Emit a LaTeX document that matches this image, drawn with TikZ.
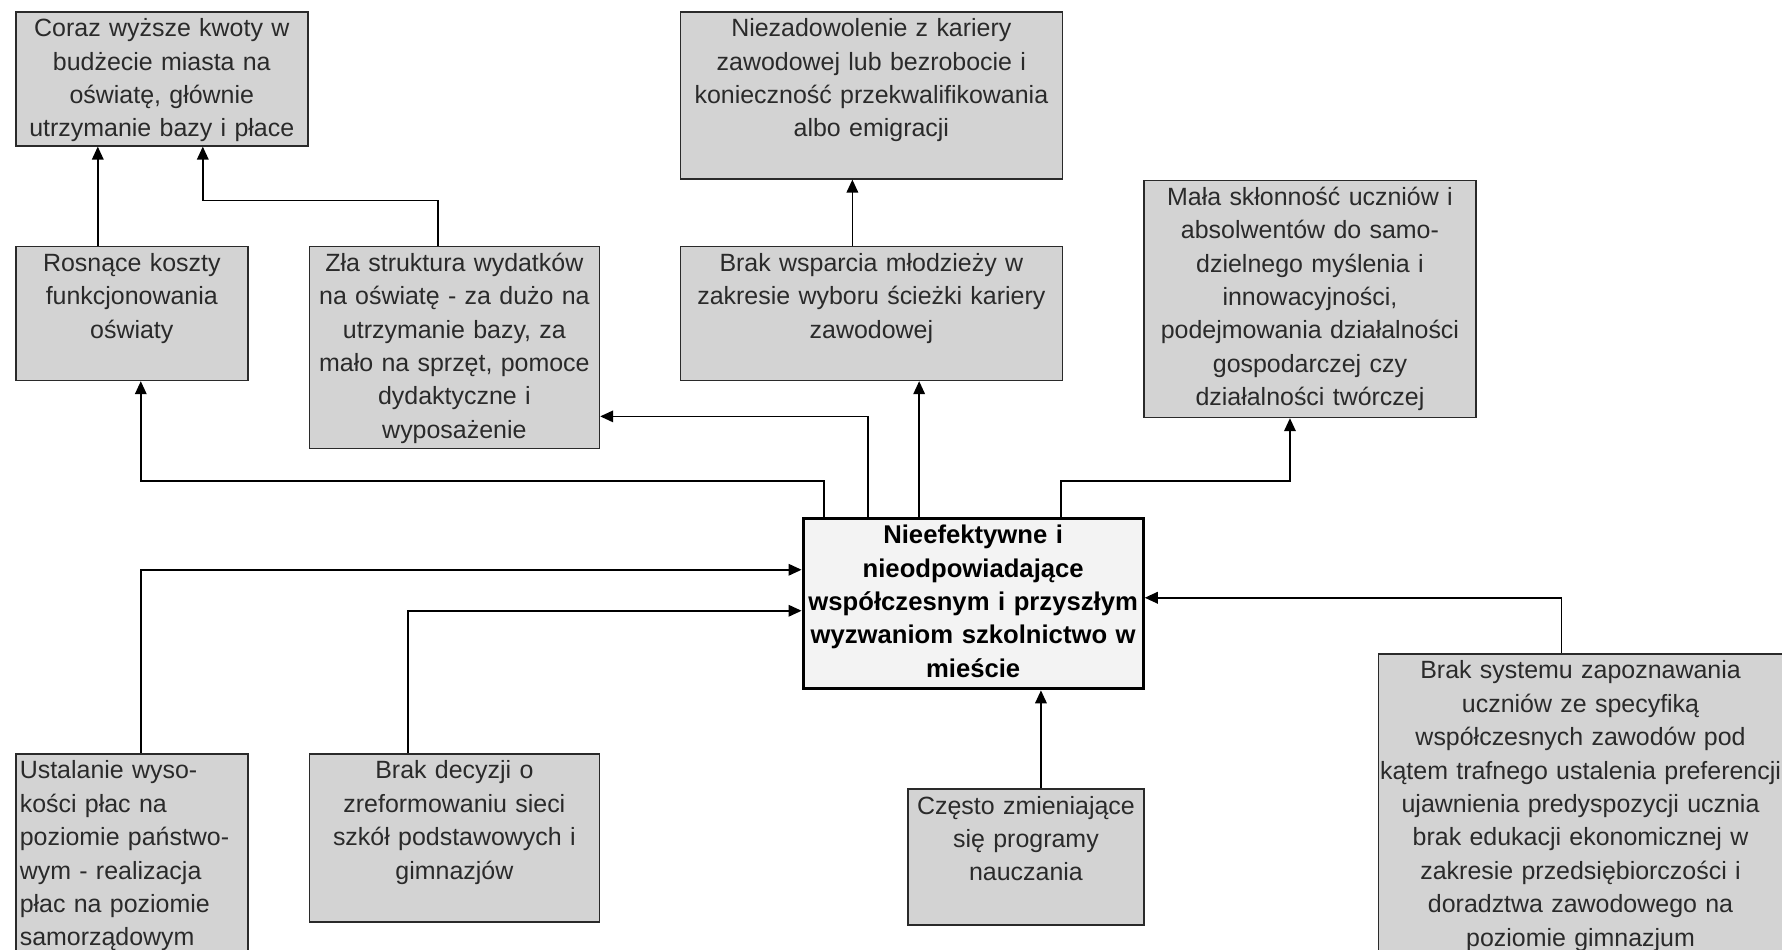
\documentclass[tikz,border=0pt]{standalone}
\usepackage{fontspec}
\setmainfont{Liberation Sans}
\usetikzlibrary{arrows.meta,positioning}
\definecolor{boxgray}{HTML}{D3D3D3}
\definecolor{coregray}{HTML}{F3F3F3}
\definecolor{ink}{HTML}{2A2A2A}
\tikzset{
  cause/.style={draw=ink,line width=0.9pt,fill=boxgray,align=center,inner xsep=1mm,inner ysep=1.5mm,text height=3.5mm,text=ink,font=\fontsize{14.2}{19}\selectfont},
  core/.style={cause,draw=black,line width=1.8pt,fill=coregray,text=black,inner xsep=0.5mm,font=\fontsize{14.6}{19}\selectfont\bfseries},
  flow/.style={-{Triangle[length=2.6mm,width=2.3mm]},line width=1pt,draw=black}
}
\begin{document}
\begin{tikzpicture}
\useasboundingbox (0,0) rectangle (356.4mm,-189.8mm);
\clip (0,0) rectangle (356.4mm,-189.8mm);

\node[cause,text width=56.4mm,text depth=20.3mm,anchor=north west] (coraz) at (3mm,-2.2mm) {Coraz wyższe kwoty w\\budżecie miasta na\\oświatę, głównie\\utrzymanie bazy i płace};
\node[cause,text width=44.4mm,text depth=20.3mm,below=19.8mm of coraz.south west,anchor=north west] (rosnace) {Rosnące koszty\\funkcjonowania\\oświaty};
\node[cause,text width=56mm,text depth=33.9mm,right=12mm of rosnace.north east,anchor=north west] (zla) {Zła struktura wydatków\\na oświatę - za dużo na\\utrzymanie bazy, za\\mało na sprzęt, pomoce\\dydaktyczne i\\wyposażenie};

\node[cause,text width=74.4mm,text depth=26.9mm,right=74.2mm of coraz.north east,anchor=north west] (niezad) {Niezadowolenie z kariery\\zawodowej lub bezrobocie i\\konieczność przekwalifikowania\\albo emigracji};
\node[cause,text width=74.4mm,text depth=20.3mm,below=13.2mm of niezad.south west,anchor=north west] (wsparcie) {Brak wsparcia młodzieży w\\zakresie wyboru ścieżki kariery\\zawodowej};
\node[cause,text width=64.4mm,text depth=40.9mm,right=16mm of niezad.south east,anchor=north west] (mala) {Mała skłonność uczniów i\\absolwentów do samo-\\dzielnego myślenia i\\innowacyjności,\\podejmowania działalności\\gospodarczej czy\\działalności twórczej};

\node[core,text width=67mm,text depth=27.5mm,below right=27.2mm and 24.4mm of wsparcie.south west] (problem) {Nieefektywne i\\nieodpowiadające\\współczesnym i przyszłym\\wyzwaniom szkolnictwo w\\mieście};

\node[cause,text width=44.8mm,text depth=35.5mm,inner xsep=0.8mm,align=left,below=74.4mm of rosnace.south west,anchor=north west] (ustalanie) {Ustalanie wyso-\\kości płac na\\poziomie państwo-\\wym - realizacja\\płac na poziomie\\samorządowym};
\node[cause,text width=56mm,text depth=27.1mm,right=12mm of ustalanie.north east,anchor=north west] (decyzja) {Brak decyzji o\\zreformowaniu sieci\\szkół podstawowych i\\gimnazjów};
\node[cause,text width=45.2mm,text depth=20.7mm,below=19.6mm of problem.south east,anchor=north east] (czesto) {Często zmieniające\\się programy\\nauczania};
\node[cause,text width=80.8mm,text depth=54.5mm,inner xsep=0mm,below right=27.2mm and 46.6mm of problem.north east] (system) {Brak systemu zapoznawania\\uczniów ze specyfiką\\współczesnych zawodów pod\\kątem trafnego ustalenia preferencji\\ujawnienia predyspozycji ucznia\\brak edukacji ekonomicznej w\\zakresie przedsiębiorczości i\\doradztwa zawodowego na\\poziomie gimnazjum};

\draw[flow] ([xshift=-6.8mm]rosnace.north) -- ([xshift=-6.8mm]rosnace.north |- coraz.south);
\draw[flow] ([xshift=-3.2mm]zla.north) -- ++(0,9mm) -| ([xshift=8.2mm]coraz.south);
\draw[flow] ([xshift=-3.8mm]wsparcie.north) -- ([xshift=-3.8mm]wsparcie.north |- niezad.south);
\draw[flow] ([xshift=-29.8mm]problem.north) -- ++(0,7.2mm) -| ([xshift=1.8mm]rosnace.south);
\draw[flow] ([xshift=-21mm]problem.north) |- ([yshift=-13.8mm]zla.east);
\draw[flow] ([xshift=-10.8mm]problem.north) -- ([xshift=-10.8mm]problem.north |- wsparcie.south);
\draw[flow] ([xshift=17.6mm]problem.north) -- ++(0,7.2mm) -| ([xshift=-4mm]mala.south);
\draw[flow] ([xshift=1.8mm]ustalanie.north) |- ([yshift=6.8mm]problem.west);
\draw[flow] ([xshift=-9.2mm]decyzja.north) |- ([yshift=-1.4mm]problem.west);
\draw[flow] ([xshift=3mm]czesto.north) -- ([xshift=3mm]czesto.north |- problem.south);
\draw[flow] ([xshift=-3.8mm]system.north) |- ([yshift=1.2mm]problem.east);
\end{tikzpicture}
\end{document}
